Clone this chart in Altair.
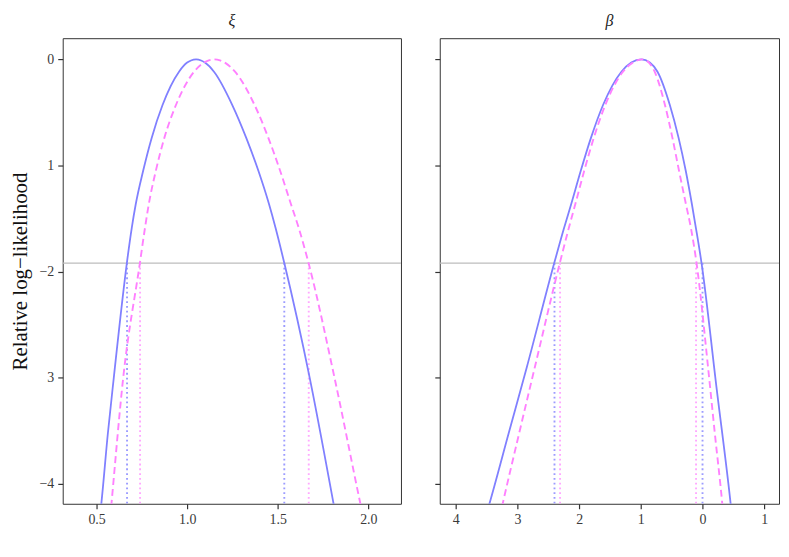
import altair as alt
import pandas as pd

# ---- data ----
threshold = -1.92

xi_solid_x = [0.519, 0.526, 0.562, 0.595, 0.667, 0.694, 0.716, 0.757, 0.804, 0.864, 0.955, 1.000, 1.021, 1.049, 1.077, 1.098, 1.148, 1.249, 1.326, 1.393, 1.452, 1.488, 1.536, 1.676, 1.808, 1.822]
xi_solid_y = [-4.30, -4.19, -3.53, -3.00, -1.92, -1.59, -1.366, -1.05, -0.74, -0.43, -0.116, -0.030, -0.010, 0.0, -0.010, -0.030, -0.116, -0.43, -0.74, -1.05, -1.366, -1.59, -1.92, -3.00, -4.19, -4.32]

xi_dash_x = [0.575, 0.582, 0.647, 0.739, 0.767, 0.788, 0.827, 0.874, 0.938, 1.038, 1.088, 1.119, 1.150, 1.181, 1.212, 1.264, 1.372, 1.448, 1.513, 1.573, 1.616, 1.670, 1.813, 1.956, 1.972]
xi_dash_y = [-4.32, -4.19, -3.00, -1.92, -1.59, -1.366, -1.05, -0.74, -0.43, -0.116, -0.035, -0.009, 0.0, -0.009, -0.035, -0.116, -0.43, -0.74, -1.05, -1.366, -1.59, -1.92, -3.00, -4.19, -4.32]

beta_solid_x = [-3.52, -3.455, -3.145, -2.85, -2.404, -2.245, -2.13, -1.974, -1.809, -1.613, -1.315, -1.155, -0.99, -0.855, -0.73, -0.53, -0.388, -0.272, -0.172, -0.107, -0.016, 0.226, 0.456, 0.48]
beta_solid_y = [-4.32, -4.19, -3.53, -2.905, -1.92, -1.59, -1.366, -1.05, -0.74, -0.43, -0.116, -0.03, 0.0, -0.03, -0.116, -0.43, -0.74, -1.05, -1.366, -1.59, -1.92, -3.09, -4.19, -4.32]

beta_dash_x = [-3.29, -3.24, -2.975, -2.72, -2.314, -2.168, -2.063, -1.918, -1.763, -1.577, -1.29, -1.13, -0.97, -0.87, -0.776, -0.609, -0.488, -0.381, -0.269, -0.188, -0.097, 0.09, 0.20, 0.32, 0.34]
beta_dash_y = [-4.32, -4.19, -3.53, -2.905, -1.92, -1.59, -1.366, -1.05, -0.74, -0.43, -0.116, -0.03, 0.0, -0.03, -0.116, -0.43, -0.74, -1.05, -1.366, -1.59, -1.92, -2.905, -3.53, -4.19, -4.32]

xi_ci_solid = [0.668, 1.536]
xi_ci_dash = [0.740, 1.671]
beta_ci_solid = [-2.40, 0.0]
beta_ci_dash = [-2.31, -0.105]

y_ticks = [0, -1, -2, -3, -4]
xi_ticks = [0.5, 1.0, 1.5, 2.0]
beta_ticks = [-4, -3, -2, -1, 0, 1]

FONT = "Liberation Serif"
BLUE = "#8080FF"
PINK = "#FF80FF"
BLUE_DOT = "#9C9CFF"
PINK_DOT = "#FFA8FF"
Y_DOMAIN = [-4.19, 0.2]


def panel(sx, sy, dx, dy, ci_s, ci_d, xdom, xticks, xlabel_expr, title, show_y, width):
    xs = alt.Scale(domain=xdom, nice=False, zero=False)
    ys = alt.Scale(domain=Y_DOMAIN, nice=False, zero=False)
    if show_y:
        yaxis = alt.Axis(values=y_ticks, title="Relative log\u2212likelihood", grid=False,
                         labelExpr="datum.value == -2 ? '\u22122' : datum.value == -4 ? '\u22124' : '' + abs(datum.value)",
                         titleFontSize=21, titlePadding=9, titleFontWeight="normal")
    else:
        yaxis = alt.Axis(values=y_ticks, title=None, labels=False, grid=False)
    xaxis = alt.Axis(values=xticks, title=None, labelExpr=xlabel_expr, grid=False)

    solid = alt.Chart(pd.DataFrame({"x": sx, "y": sy})).mark_line(
        color=BLUE, strokeWidth=1.8, clip=True, interpolate="monotone"
    ).encode(x=alt.X("x:Q", scale=xs, axis=xaxis), y=alt.Y("y:Q", scale=ys, axis=yaxis))
    dashed = alt.Chart(pd.DataFrame({"x": dx, "y": dy})).mark_line(
        color=PINK, strokeWidth=1.9, strokeDash=[7, 4], clip=True, interpolate="monotone"
    ).encode(x=alt.X("x:Q", scale=xs), y=alt.Y("y:Q", scale=ys))
    hline = alt.Chart(pd.DataFrame({"y": [threshold]})).mark_rule(
        color="#BDBDBD", strokeWidth=1.2
    ).encode(y=alt.Y("y:Q", scale=ys))
    dots_s = alt.Chart(pd.DataFrame({"x": ci_s, "y": [threshold] * 2, "y2": [-4.3] * 2})).mark_rule(
        color=BLUE_DOT, strokeWidth=1.9, strokeDash=[1.8, 3], clip=True
    ).encode(x=alt.X("x:Q", scale=xs), y=alt.Y("y:Q", scale=ys), y2="y2:Q")
    dots_d = alt.Chart(pd.DataFrame({"x": ci_d, "y": [threshold] * 2, "y2": [-4.3] * 2})).mark_rule(
        color=PINK_DOT, strokeWidth=1.9, strokeDash=[1.8, 3], clip=True
    ).encode(x=alt.X("x:Q", scale=xs), y=alt.Y("y:Q", scale=ys), y2="y2:Q")

    return alt.layer(hline, dots_s, dots_d, solid, dashed).properties(
        width=width, height=468,
        title=alt.TitleParams(title, fontStyle="italic", fontSize=16, font=FONT,
                              fontWeight="normal", color="#222", offset=9),
    )


left = panel(xi_solid_x, xi_solid_y, xi_dash_x, xi_dash_y, xi_ci_solid, xi_ci_dash,
             [0.313, 2.18], xi_ticks, "format(datum.value, '.1f')", "\u03be", True, 340)
right = panel(beta_solid_x, beta_solid_y, beta_dash_x, beta_dash_y, beta_ci_solid, beta_ci_dash,
              [-4.26, 1.24], beta_ticks, "'' + abs(datum.value)", "\u03b2", False, 341)

chart = alt.hconcat(left, right, spacing=30).properties(
    padding={"left": 0, "top": 3, "right": 0, "bottom": 0},
    background="white",
).configure_view(
    stroke="#333333", strokeWidth=1
).configure_axis(
    domain=False, grid=False, tickColor="#333333", tickSize=5, tickWidth=1.2,
    labelColor="#3A3A3A", labelFontSize=14, labelFont=FONT, titleFont=FONT,
    titleColor="#111111", labelPadding=4
)

chart.save("out.html", embed_options={"renderer": "svg", "actions": False})
